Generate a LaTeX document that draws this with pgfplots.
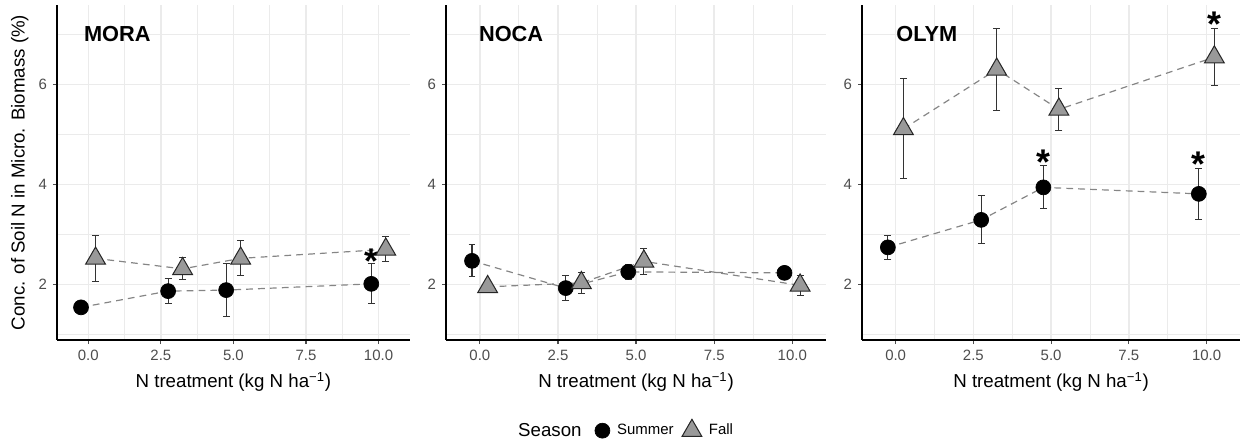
\documentclass[border=0pt]{standalone}
\usepackage{fontspec}
\setmainfont{Liberation Sans}
\usepackage{pgfplots}
\usepackage{pgfplotstable}
\pgfplotsset{compat=1.18}

\definecolor{gridmaj}{HTML}{EBEBEB}
\definecolor{tickgray}{HTML}{4D4D4D}
\definecolor{linegray}{HTML}{858585}
\definecolor{fallfill}{HTML}{999999}

% x y se  (summer at N-0.25, fall at N+0.25)
\pgfplotstableread{
x y se
-0.25 1.54 0.03
2.75 1.865 0.255
4.75 1.885 0.535
9.75 2.01 0.40
}\moraS
\pgfplotstableread{
x y se
0.25 2.52 0.465
3.25 2.31 0.22
5.25 2.52 0.35
10.25 2.70 0.25
}\moraF
\pgfplotstableread{
x y se
-0.25 2.47 0.32
2.75 1.925 0.255
4.75 2.25 0.15
9.75 2.23 0.03
}\nocaS
\pgfplotstableread{
x y se
0.25 1.95 0.03
3.25 2.03 0.21
5.25 2.46 0.26
10.25 1.98 0.205
}\nocaF
\pgfplotstableread{
x y se
-0.25 2.74 0.24
2.75 3.29 0.48
4.75 3.94 0.43
9.75 3.81 0.51
}\olymS
\pgfplotstableread{
x y se
0.25 5.11 1.0
3.25 6.30 0.825
5.25 5.50 0.415
10.25 6.545 0.575
}\olymF

\pgfplotsset{
  panel/.style={
    scale only axis, height=197.1pt, anchor=south west,
    xmin=-1.08, xmax=11.08, ymin=0.887, ymax=7.59,
    axis lines*=left,
    axis line style={line width=1.1pt, black},
    xtick={0,2.5,5,7.5,10}, xticklabels={0.0,2.5,5.0,7.5,10.0},
    ytick={2,4,6},
    minor xtick={1.25,3.75,6.25,8.75}, minor ytick={1,3,5,7},
    grid=both,
    major grid style={gridmaj, line width=0.9pt},
    minor grid style={gridmaj, line width=0.5pt},
    tick align=outside, xtick pos=left, ytick pos=left,
    major tick length=2.4pt, minor tick length=0pt,
    tick style={tickgray, line width=0.7pt},
    ticklabel style={font=\fontsize{8.8}{10}\selectfont, text=tickgray},
    /pgf/number format/assume math mode=true,
    xlabel={N treatment (kg N ha\textsuperscript{−1})},
    xlabel style={font=\fontsize{11}{13}\selectfont, at={(axis description cs:0.5,-0.125)}, anchor=center},
    clip=false,
  },
  eb/.style={forget plot, only marks, mark=none,
    error bars/.cd, y dir=both, y explicit,
    error bar style={black!80, line width=0.7pt, solid},
    error mark options={black!80, line width=0.7pt, mark size=2pt, rotate=90}},
  dline/.style={forget plot, linegray, line width=0.7pt, dash pattern=on 4pt off 3pt, mark=none},
  sumM/.style={only marks, mark=*, mark size=4.4pt, mark options={fill=black, draw=black, solid}},
  fallM/.style={only marks, mark=triangle*, mark size=6.7pt, mark options={fill=fallfill, draw=black!85, line width=0.6pt, solid}},
}
\tikzset{plab/.style={font=\fontsize{12.8}{14}\selectfont\bfseries, anchor=center}}

\newcommand{\sigstar}[2]{\node[font=\fontsize{21}{21}\selectfont\bfseries, anchor=base, yshift=-11.6pt, inner sep=0pt] at (axis cs:#1,#2) {*};}

\begin{document}
\begin{tikzpicture}
\useasboundingbox (0,0) rectangle (730pt,258.8pt);

% MORA
\begin{axis}[panel, width=207.6pt, at={(33.5pt,58.8pt)},
  ylabel={Conc. of Soil N in Micro. Biomass (\%)},
  ylabel style={font=\fontsize{11}{13}\selectfont, at={(axis description cs:-0.105,0.5)}, anchor=center}]
\addplot[eb] table[x=x, y=y, y error=se] {\moraS};
\addplot[eb] table[x=x, y=y, y error=se] {\moraF};
\addplot[dline] table[x=x, y=y] {\moraS};
\addplot[dline] table[x=x, y=y] {\moraF};
\addplot[sumM] table[x=x, y=y] {\moraS};
\addplot[fallM] table[x=x, y=y] {\moraF};
\node[plab] at (axis cs:1,7) {MORA};
\sigstar{9.75}{2.62}
\end{axis}

% NOCA
\begin{axis}[panel, width=223.5pt, at={(262.4pt,58.8pt)},
  legend style={draw=none, fill=none, at={(axis description cs:0.578,-0.2687)}, anchor=center,
    legend columns=2, inner sep=0pt,
    font=\fontsize{8.8}{10}\selectfont,
    /tikz/every odd column/.append style={column sep=2.2pt},
    /tikz/every even column/.append style={column sep=3pt}},
  legend image code/.code={\draw[mark repeat=1, mark phase=1, #1] plot coordinates {(0cm,0cm)};}]
\addplot[eb] table[x=x, y=y, y error=se] {\nocaS};
\addplot[eb] table[x=x, y=y, y error=se] {\nocaF};
\addplot[dline] table[x=x, y=y] {\nocaS};
\addplot[dline] table[x=x, y=y] {\nocaF};
\addplot[sumM] table[x=x, y=y] {\nocaS};
\addlegendentry{Summer}
\addplot[fallM] table[x=x, y=y] {\nocaF};
\addlegendentry{Fall}
\node[plab] at (axis cs:1,7) {NOCA};
\end{axis}

% OLYM
\begin{axis}[panel, width=222.4pt, at={(507.1pt,58.8pt)}]
\addplot[eb] table[x=x, y=y, y error=se] {\olymS};
\addplot[eb] table[x=x, y=y, y error=se] {\olymF};
\addplot[dline] table[x=x, y=y] {\olymS};
\addplot[dline] table[x=x, y=y] {\olymF};
\addplot[sumM] table[x=x, y=y] {\olymS};
\addplot[fallM] table[x=x, y=y] {\olymF};
\node[plab] at (axis cs:1,7) {OLYM};
\sigstar{4.75}{4.59}
\sigstar{9.75}{4.55}
\sigstar{10.25}{7.35}
\end{axis}

\node[font=\fontsize{11}{13}\selectfont, anchor=east, inner sep=0pt] at (342.3pt,5.9pt) {Season};
\end{tikzpicture}
\end{document}
